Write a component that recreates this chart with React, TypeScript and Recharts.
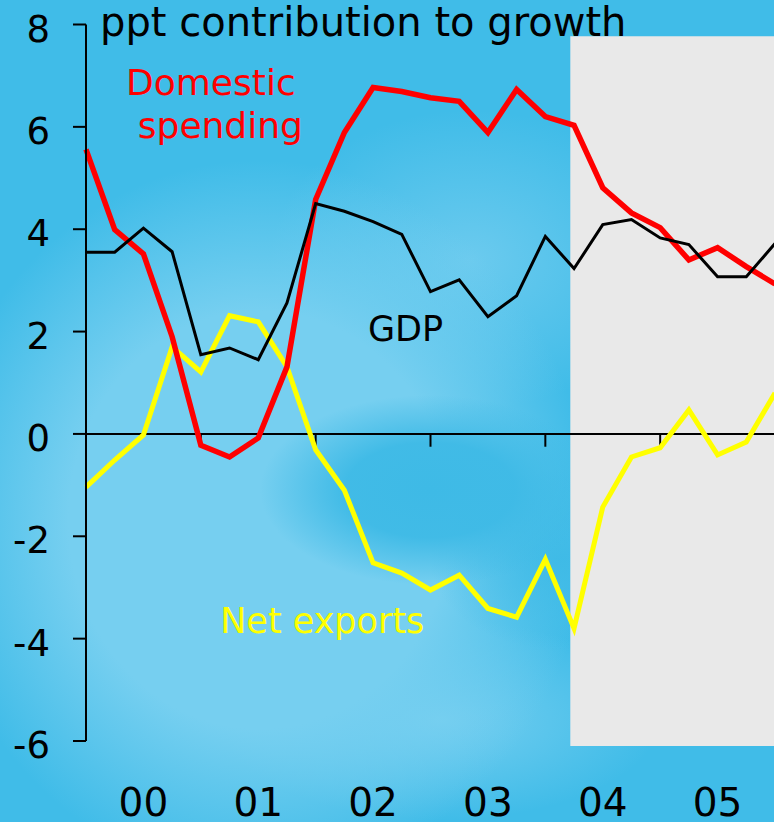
import React from 'react';
import { LineChart, Line, XAxis, YAxis, ReferenceLine, ReferenceArea, ReferenceDot } from 'recharts';

// Quarterly observations, Q1 2000 .. Q1 2006
const quarters = [0, 1, 2, 3, 4, 5, 6, 7, 8, 9, 10, 11, 12, 13, 14, 15, 16, 17, 18, 19, 20, 21, 22, 23, 24];
const domesticSpending = [5.56, 3.99, 3.52, 1.9, -0.22, -0.45, -0.08, 1.31, 4.58, 5.89, 6.77, 6.69, 6.57, 6.5, 5.89, 6.73, 6.2, 6.03, 4.81, 4.32, 4.03, 3.4, 3.64, 3.27, 2.93];
const gdp = [3.55, 3.55, 4.02, 3.56, 1.55, 1.68, 1.45, 2.56, 4.5, 4.35, 4.15, 3.9, 2.78, 3.01, 2.29, 2.7, 3.86, 3.23, 4.09, 4.19, 3.83, 3.7, 3.07, 3.07, 3.72];
const netExports = [-1.04, -0.51, -0.02, 1.7, 1.21, 2.31, 2.19, 1.31, -0.31, -1.1, -2.52, -2.72, -3.05, -2.76, -3.41, -3.58, -2.45, -3.8, -1.43, -0.45, -0.27, 0.47, -0.41, -0.16, 0.8];

const yearLabels = ['00', '01', '02', '03', '04', '05'];
const yearMidTicks = [2, 6, 10, 14, 18, 22];
const yearStartTicks = [4, 8, 12, 16, 20];
const yTicks = [-6, -4, -2, 0, 2, 4, 6, 8];

const data = quarters.map((q, i) => ({
  q,
  domestic: domesticSpending[i],
  gdp: gdp[i],
  net: netExports[i],
}));

const FONT = '"DejaVu Sans", sans-serif';

const YTick = (p: any) => (
  <text x={p.x} y={p.y + 17} textAnchor="end" fontFamily={FONT} fontSize={37} fill="#000">
    {p.payload.value}
  </text>
);

const XTick = (p: any) => {
  const idx = yearMidTicks.indexOf(p.payload.value);
  return (
    <text x={p.x} y={p.y + 75} textAnchor="middle" fontFamily={FONT} fontSize={39} fill="#000">
      {yearLabels[idx]}
    </text>
  );
};

const makeLabel = (text: string, color: string, anchor: string, size: number) => (props: any) => {
  const vb = props.viewBox || {};
  const x = (vb.x ?? 0) + (vb.width ?? 0) / 2;
  const y = (vb.y ?? 0) + (vb.height ?? 0) / 2;
  return (
    <text x={x} y={y} textAnchor={anchor} fontFamily={FONT} fontSize={size} fill={color}>
      {text}
    </text>
  );
};

export default function App() {
  return (
    <div
      style={{
        position: 'absolute',
        left: 0,
        top: 0,
        width: 774,
        height: 822,
        overflow: 'hidden',
        background:
          'radial-gradient(ellipse 170px 95px at 430px 490px, rgba(62,186,230,1) 0%, rgba(62,186,230,0.95) 50%, rgba(62,186,230,0) 100%),' +
          'radial-gradient(ellipse 130px 90px at 560px 560px, rgba(62,186,230,0.9) 0%, rgba(62,186,230,0) 100%),' +
          'radial-gradient(ellipse 330px 360px at 260px 520px, rgba(118,207,240,1) 0%, rgba(118,207,240,1) 58%, rgba(118,207,240,0) 100%),' +
          'radial-gradient(ellipse 200px 150px at 470px 260px, rgba(112,204,239,0.9) 0%, rgba(112,204,239,0) 100%),' +
          'radial-gradient(ellipse 220px 100px at 440px 720px, rgba(116,206,240,1) 0%, rgba(116,206,240,0) 100%),' +
          '#40BCE8',
      }}
    >
      <LineChart
        width={800}
        height={822}
        data={data}
        margin={{ top: 24.5, right: 25, bottom: 0, left: 0 }}
      >
        <ReferenceArea
          x1={16.87}
          x2={24.5}
          y1={-6.1}
          y2={7.77}
          fill="#E9E9E9"
          fillOpacity={1}
          stroke="none"
          ifOverflow="visible"
        />
        <XAxis
          dataKey="q"
          type="number"
          domain={[0, 24]}
          ticks={yearMidTicks}
          axisLine={false}
          tickLine={false}
          tickSize={0}
          tickMargin={0}
          height={81}
          tick={<XTick />}
          interval={0}
        />
        <YAxis
          type="number"
          domain={[-6, 8]}
          ticks={yTicks}
          width={86}
          axisLine={{ stroke: '#000', strokeWidth: 2 }}
          tickLine={{ stroke: '#000', strokeWidth: 2 }}
          tickSize={13}
          tickMargin={23}
          tick={<YTick />}
          interval={0}
        />
        <ReferenceLine y={0} stroke="#000" strokeWidth={2} />
        {yearStartTicks.map((t) => (
          <ReferenceLine
            key={t}
            segment={[{ x: t, y: 0 }, { x: t, y: -0.25 }]}
            stroke="#000"
            strokeWidth={2}
          />
        ))}
        <Line type="linear" dataKey="net" stroke="#FFFF00" strokeWidth={5} dot={false} isAnimationActive={false} />
        <Line type="linear" dataKey="domestic" stroke="#FF0000" strokeWidth={5.5} dot={false} isAnimationActive={false} />
        <Line type="linear" dataKey="gdp" stroke="#000000" strokeWidth={3} dot={false} isAnimationActive={false} />
        <ReferenceDot x={0.49} y={7.77} r={1} fill="none" stroke="none" label={makeLabel('ppt contribution to growth', '#000', 'start', 40)} />
        <ReferenceDot x={4.35} y={6.62} r={1} fill="none" stroke="none" label={makeLabel('Domestic', '#FF0000', 'middle', 36)} />
        <ReferenceDot x={4.68} y={5.78} r={1} fill="none" stroke="none" label={makeLabel('spending', '#FF0000', 'middle', 36)} />
        <ReferenceDot x={11.13} y={1.82} r={1} fill="none" stroke="none" label={makeLabel('GDP', '#000', 'middle', 35)} />
        <ReferenceDot x={8.23} y={-3.89} r={1} fill="none" stroke="none" label={makeLabel('Net exports', '#FFFF00', 'middle', 35)} />
      </LineChart>
    </div>
  );
}
